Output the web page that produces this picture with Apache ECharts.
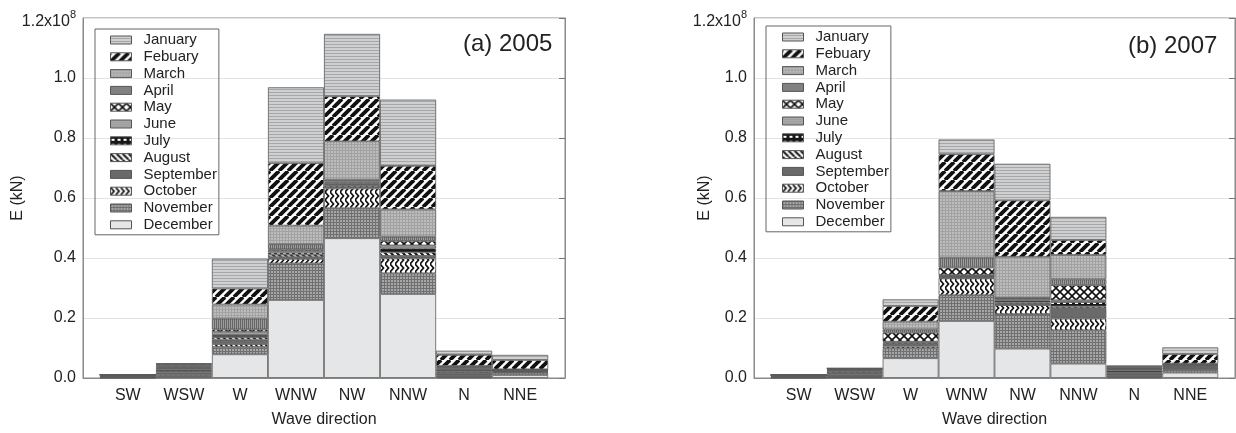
<!DOCTYPE html>
<html><head><meta charset="utf-8">
<script src="https://cdn.jsdelivr.net/npm/echarts@6/dist/echarts.min.js"></script>
<style>html,body{margin:0;padding:0;background:#fff}#c{width:1236px;height:433px}</style>
</head><body><div id="c"></div>
<script>
// Wave directions (x categories)
const directions = ['SW','WSW','W','WNW','NW','NNW','N','NNE'];
const months = ['January','Febuary','March','April','May','June','July','August','September','October','November','December'];
const yTicks = [0, 0.2, 0.4, 0.6, 0.8, 1.0, 1.2]; // x10^8 kN

// 2005 values (x10^8 kN), order SW..NNE
const jan2005 = [0,     0.002, 0.100, 0.253, 0.208, 0.221, 0.014, 0.017];
const feb2005 = [0,     0.003, 0.053, 0.208, 0.150, 0.145, 0.037, 0.031];
const mar2005 = [0,     0.004, 0.047, 0.062, 0.128, 0.091, 0.003, 0.001];
const apr2005 = [0,     0.004, 0.036, 0.017, 0.006, 0.014, 0.003, 0.001];
const may2005 = [0,     0.003, 0.008, 0.005, 0.004, 0.015, 0.003, 0.001];
const jun2005 = [0.001, 0.004, 0.010, 0.006, 0.005, 0.010, 0.004, 0.001];
const jul2005 = [0.003, 0.006, 0.008, 0.007, 0.005, 0.013, 0.006, 0.002];
const aug2005 = [0.001, 0.004, 0.008, 0.008, 0.005, 0.012, 0.004, 0.001];
const sep2005 = [0.003, 0.008, 0.015, 0.006, 0.004, 0.008, 0.008, 0.002];
const oct2005 = [0.001, 0.003, 0.009, 0.015, 0.066, 0.050, 0.003, 0.002];
const nov2005 = [0.001, 0.004, 0.025, 0.122, 0.100, 0.069, 0.004, 0.008];
const dec2005 = [0.001, 0.004, 0.079, 0.260, 0.466, 0.280, 0.002, 0.010];

// 2007 values (x10^8 kN)
const jan2007 = [0,     0.001, 0.022, 0.049, 0.122, 0.077, 0.002, 0.022];
const feb2007 = [0,     0.001, 0.052, 0.123, 0.188, 0.050, 0.004, 0.032];
const mar2007 = [0,     0.002, 0.026, 0.222, 0.136, 0.081, 0.002, 0.002];
const apr2007 = [0,     0.002, 0.011, 0.033, 0.002, 0.019, 0.003, 0.002];
const may2007 = [0,     0.002, 0.030, 0.025, 0.004, 0.051, 0.002, 0.002];
const jun2007 = [0.001, 0.003, 0.003, 0.002, 0.004, 0.006, 0.003, 0.002];
const jul2007 = [0.002, 0.005, 0.004, 0.004, 0.006, 0.014, 0.006, 0.004];
const aug2007 = [0.001, 0.003, 0.004, 0.003, 0.005, 0.006, 0.003, 0.003];
const sep2007 = [0.003, 0.007, 0.005, 0.002, 0.004, 0.035, 0.007, 0.004];
const oct2007 = [0.001, 0.002, 0.006, 0.056, 0.030, 0.039, 0.003, 0.003];
const nov2007 = [0.001, 0.003, 0.033, 0.086, 0.115, 0.111, 0.004, 0.008];
const dec2007 = [0.001, 0.002, 0.066, 0.190, 0.098, 0.048, 0.002, 0.018];

const data2005 = [jan2005,feb2005,mar2005,apr2005,may2005,jun2005,jul2005,aug2005,sep2005,oct2005,nov2005,dec2005];
const data2007 = [jan2007,feb2007,mar2007,apr2007,may2007,jun2007,jul2007,aug2007,sep2007,oct2007,nov2007,dec2007];

function mk(w, h, draw) {
  const c = document.createElement('canvas'); c.width = w; c.height = h;
  const g = c.getContext('2d'); draw(g, w, h);
  return { image: c, repeat: 'repeat' };
}
const patterns = [
  // January: light grey, horizontal lines
  mk(4, 3, g => { g.fillStyle = '#cfd0d2'; g.fillRect(0,0,4,3); g.fillStyle = '#a6a7a9'; g.fillRect(0,2,4,1); }),
  // February: bold "/" stripes
  mk(9, 9, g => { g.fillStyle = '#fff'; g.fillRect(0,0,9,9); g.strokeStyle = '#111'; g.lineWidth = 3.8;
    for (const k of [-9,0,9]) { g.beginPath(); g.moveTo(k,9); g.lineTo(k+9,0); g.stroke(); } }),
  // March: fine grey grid
  mk(3, 3, g => { g.fillStyle = '#bcbcbc'; g.fillRect(0,0,3,3); g.fillStyle = '#a2a2a2'; g.fillRect(0,0,1,3); g.fillRect(0,0,3,1); }),
  // April: darker vertical lines
  mk(2, 1, g => { g.fillStyle = '#9c9c9c'; g.fillRect(0,0,2,1); g.fillStyle = '#666'; g.fillRect(0,0,1,1); }),
  // May: X lattice
  mk(8, 8, g => { g.fillStyle = '#fff'; g.fillRect(0,0,8,8); g.strokeStyle = '#111'; g.lineWidth = 1.6;
    for (const k of [-8,0,8]) { g.beginPath(); g.moveTo(k,0); g.lineTo(k+8,8); g.stroke(); g.beginPath(); g.moveTo(k,8); g.lineTo(k+8,0); g.stroke(); } }),
  // June: grey fine dots
  mk(2, 2, g => { g.fillStyle = '#a9a9a9'; g.fillRect(0,0,2,2); g.fillStyle = '#939393'; g.fillRect(0,0,1,1); }),
  // July: black with white dashes
  mk(6, 5, g => { g.fillStyle = '#161616'; g.fillRect(0,0,6,5); g.fillStyle = '#fff'; g.fillRect(1,2,3,2); }),
  // August: "\" stripes
  mk(6, 6, g => { g.fillStyle = '#fff'; g.fillRect(0,0,6,6); g.strokeStyle = '#111'; g.lineWidth = 2;
    for (const k of [-6,0,6]) { g.beginPath(); g.moveTo(k,0); g.lineTo(k+6,6); g.stroke(); } }),
  // September: dark grey
  '#6a6a6a',
  // October: chevron zigzag
  mk(5, 8, g => { g.fillStyle = '#fff'; g.fillRect(0,0,5,8); g.strokeStyle = '#111'; g.lineWidth = 1.7;
    g.beginPath(); g.moveTo(0,0); g.lineTo(3.5,4); g.lineTo(0,8); g.stroke(); }),
  // November: grey grid
  mk(3, 3, g => { g.fillStyle = '#a6a6a6'; g.fillRect(0,0,3,3); g.fillStyle = '#707070'; g.fillRect(0,0,1,3); g.fillRect(0,0,3,1); }),
  // December: very light grey
  '#e4e6e8'
];

const FONT = 'Liberation Sans, Arial, sans-serif';
function yFmt(v) {
  if (Math.abs(v - yTicks[yTicks.length-1]) < 1e-9) return '{b|' + v.toFixed(1) + 'x10}{s|8}';
  return v.toFixed(1);
}
// frame grids (axes box) and bar grids (inset so the bars leave a margin inside the box)
const frames = [
  { left: 83, top: 18, width: 482, height: 360 },
  { left: 754, top: 18, width: 481, height: 360 }
];
const grids = [], xAxes = [], yAxes = [], series = [];
[data2005, data2007].forEach((yearData, pi) => {
  const f = frames[pi];
  const unit = f.width / 8.6;
  const fi = grids.length;
  grids.push(Object.assign({ show: true, borderColor: '#8a8a8a', borderWidth: 1, backgroundColor: 'transparent' }, f));
  grids.push({ left: f.left + 0.3 * unit, top: f.top, width: 8 * unit, height: f.height });
  const bi = fi + 1;
  // frame axes
  xAxes.push({ type: 'value', gridIndex: fi, min: 0, max: 1,
    axisLine: { show: true, lineStyle: { color: '#8a8a8a', width: 1 } },
    axisTick: { show: false }, axisLabel: { show: false }, splitLine: { show: false } });
  yAxes.push({
    type: 'value', gridIndex: fi, min: yTicks[0], max: yTicks[yTicks.length-1], interval: 0.2,
    axisLine: { show: true, lineStyle: { color: '#8a8a8a', width: 1 } },
    axisTick: { show: false },
    splitLine: { show: true, lineStyle: { color: '#e3e3e3', width: 1 } },
    axisLabel: { formatter: yFmt, fontSize: 16, color: '#222', fontFamily: FONT, margin: 7,
      rich: { b: { fontSize: 16, color: '#222', fontFamily: FONT, padding: [8, 0, 0, 0] },
              s: { fontSize: 11, color: '#222', fontFamily: FONT, padding: [0, 0, 6, 0] } } },
    name: 'E (kN)', nameLocation: 'middle', nameGap: pi === 0 ? 57 : 41, nameRotate: 90, nameMoveOverlap: false,
    nameTextStyle: { fontSize: 16, color: '#222', fontFamily: FONT }
  });
  yAxes.push({
    type: 'value', gridIndex: fi, position: 'right', min: yTicks[0], max: yTicks[yTicks.length-1], interval: 0.2,
    axisLine: { show: true, lineStyle: { color: '#8a8a8a', width: 1 } },
    axisTick: { show: true, inside: true, length: 6, lineStyle: { color: '#777' } },
    axisLabel: { show: false }, splitLine: { show: false }
  });
  // bar axes
  const xBarIdx = xAxes.length;
  xAxes.push({
    type: 'category', gridIndex: bi, data: directions,
    axisLine: { show: false }, axisTick: { show: false }, splitLine: { show: false },
    axisLabel: { fontSize: 16, color: '#222', fontFamily: FONT, margin: 10 },
    name: 'Wave direction', nameLocation: 'middle', nameGap: 34,
    nameTextStyle: { fontSize: 16, color: '#222', fontFamily: FONT }
  });
  const yBarIdx = yAxes.length;
  yAxes.push({ type: 'value', gridIndex: bi, min: yTicks[0], max: yTicks[yTicks.length-1], show: false });
  for (let m = 11; m >= 0; m--) {
    series.push({
      type: 'bar', name: months[m], xAxisIndex: xBarIdx, yAxisIndex: yBarIdx, stack: 'p' + pi,
      barCategoryGap: '0%', animation: false, silent: true,
      data: yearData[m],
      itemStyle: { color: patterns[m], borderColor: '#5a5a5a', borderWidth: 0.8 }
    });
  }
});
const legendBase = {
  orient: 'vertical', data: months, icon: 'rect', itemWidth: 21, itemHeight: 8, itemGap: 0.8,
  borderColor: '#666', borderWidth: 1, selectedMode: false,
  itemStyle: { borderColor: '#555', borderWidth: 1 },
  textStyle: { fontSize: 15, color: '#222', fontFamily: FONT, lineHeight: 16, padding: [0, 0, 0, 7] }
};
const option = {
  backgroundColor: '#fff',
  grid: grids,
  title: [
    { text: '(a) 2005', left: 458, top: 27, textStyle: { fontSize: 24, fontWeight: 'normal', color: '#222', fontFamily: FONT } },
    { text: '(b) 2007', left: 1123, top: 29, textStyle: { fontSize: 24, fontWeight: 'normal', color: '#222', fontFamily: FONT } }
  ],
  legend: [
    Object.assign({}, legendBase, { left: 95, top: 29, padding: [3, 2, 2, 15] }),
    Object.assign({}, legendBase, { left: 766, top: 26, padding: [3, 2, 2, 16] })
  ],
  xAxis: xAxes, yAxis: yAxes, series: series, animation: false
};
const chart = echarts.init(document.getElementById('c'), null, { renderer: 'canvas' });
chart.setOption(option);
</script></body></html>
